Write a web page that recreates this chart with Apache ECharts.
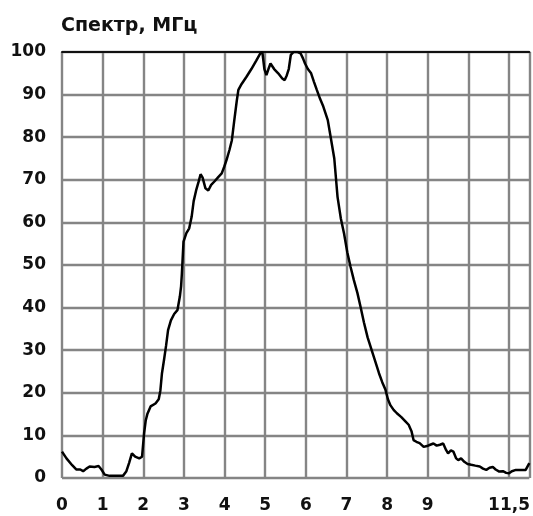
<!DOCTYPE html>
<html>
<head>
<meta charset="utf-8">
<script src="https://cdn.jsdelivr.net/npm/echarts@6/dist/echarts.min.js"></script>
<style>html,body{margin:0;padding:0;background:#fff}#c{width:533px;height:516px}</style>
</head>
<body>
<div id="c"></div>
<script>
var titleText = 'Спектр, МГц';
var xTickLabels = ['0','1','2','3','4','5','6','7','8','9','','11,5'];
var yTicks = [0,10,20,30,40,50,60,70,80,90,100];
var spectrum = [
[0,6.2],[0.11,4.6],[0.25,3.0],[0.35,2.0],[0.45,2.0],[0.52,1.6],[0.6,2.2],[0.68,2.7],[0.8,2.6],[0.9,2.8],[0.97,2.0],[1.05,0.8],[1.17,0.5],[1.3,0.5],[1.5,0.5],[1.58,1.5],[1.65,3.5],[1.72,5.8],[1.8,5.0],[1.9,4.6],[1.97,5.0],[2.02,10.5],[2.06,13.5],[2.1,15.0],[2.18,16.8],[2.3,17.5],[2.38,18.5],[2.42,20.5],[2.46,24.6],[2.51,27.7],[2.56,31],[2.61,34.7],[2.68,37],[2.76,38.5],[2.84,39.4],[2.9,42.6],[2.93,45],[2.95,48],[2.99,55.5],[3.06,57.5],[3.13,58.6],[3.19,61.3],[3.24,65],[3.3,67.5],[3.36,69.5],[3.41,71.3],[3.46,70.5],[3.53,68],[3.6,67.5],[3.67,68.8],[3.75,69.6],[3.85,70.7],[3.93,71.5],[3.99,73],[4.06,75],[4.12,77],[4.18,79.3],[4.24,84],[4.3,88.5],[4.34,91.1],[4.42,92.5],[4.54,94.2],[4.66,96],[4.78,98],[4.88,99.7],[4.93,100],[4.98,96],[5.03,94.6],[5.08,96],[5.13,97.3],[5.22,96],[5.32,95],[5.42,93.8],[5.48,93.4],[5.53,94.5],[5.58,96],[5.63,99.3],[5.7,100],[5.8,100],[5.87,99.7],[5.93,98.5],[5.98,97.3],[6.05,96],[6.13,95],[6.2,93],[6.27,91.1],[6.35,89],[6.43,87.2],[6.54,84],[6.62,79.5],[6.7,75],[6.78,66],[6.86,61],[6.94,57.4],[7.02,53],[7.1,49.6],[7.18,46.5],[7.27,43.4],[7.35,40],[7.43,36.5],[7.52,33],[7.62,30],[7.72,27],[7.8,24.6],[7.88,22.5],[7.96,20.7],[8.02,18.5],[8.08,17.1],[8.16,16],[8.24,15.2],[8.35,14.3],[8.45,13.3],[8.53,12.5],[8.6,11],[8.65,8.9],[8.72,8.5],[8.8,8.2],[8.9,7.3],[8.98,7.5],[9.06,7.8],[9.14,8.1],[9.22,7.6],[9.3,7.8],[9.38,8.1],[9.45,6.6],[9.5,5.8],[9.57,6.5],[9.63,6.2],[9.7,4.6],[9.75,4.2],[9.82,4.6],[9.9,3.8],[9.98,3.3],[10.07,3.1],[10.17,2.9],[10.28,2.7],[10.36,2.2],[10.44,1.9],[10.52,2.4],[10.6,2.6],[10.67,2.0],[10.76,1.5],[10.85,1.6],[10.93,1.2],[11.0,1.1],[11.07,1.6],[11.17,1.9],[11.3,1.9],[11.41,1.9],[11.5,3.5]
];

var chart = echarts.init(document.getElementById('c'), null, {renderer: 'canvas'});
var FONT = 'DejaVu Sans';
var gridColor = '#858585';
chart.setOption({
  animation: false,
  backgroundColor: '#fff',
  title: {
    text: titleText, left: 56, top: 12,
    textStyle: {fontFamily: FONT, fontWeight: 'bold', fontSize: 19, color: '#111'}
  },
  grid: {left: 62, right: 0, top: 52, bottom: 38, containLabel: false},
  xAxis: [{
    type: 'value', min: 0, max: 11.5, interval: 1,
    axisLine: {show: false}, axisTick: {show: false},
    splitLine: {show: true, lineStyle: {color: gridColor, width: 2.4}},
    axisLabel: {
      margin: 19, color: '#111', fontFamily: FONT, fontWeight: 'bold', fontSize: 17,
      formatter: function (v) {
        return (Number.isInteger(v) && v < xTickLabels.length) ? xTickLabels[v] : '';
      }
    }
  }, {
    type: 'value', position: 'top', min: 0, max: 11.5,
    axisLine: {show: true, onZero: false, lineStyle: {color: '#111', width: 2}},
    axisTick: {show: false}, axisLabel: {show: false}, splitLine: {show: false}
  }],
  yAxis: {
    type: 'value', min: yTicks[0], max: yTicks[yTicks.length - 1], interval: 10,
    axisLine: {show: false}, axisTick: {show: false},
    splitLine: {show: true, lineStyle: {color: gridColor, width: 2.4}},
    axisLabel: {margin: 16, color: '#111', fontFamily: FONT, fontWeight: 'bold', fontSize: 17}
  },
  series: [{
    type: 'line', data: spectrum, xAxisIndex: 0, showSymbol: false, symbol: 'none',
    lineStyle: {color: '#000', width: 2.5}, z: 5
  }]
});
</script>
</body>
</html>
